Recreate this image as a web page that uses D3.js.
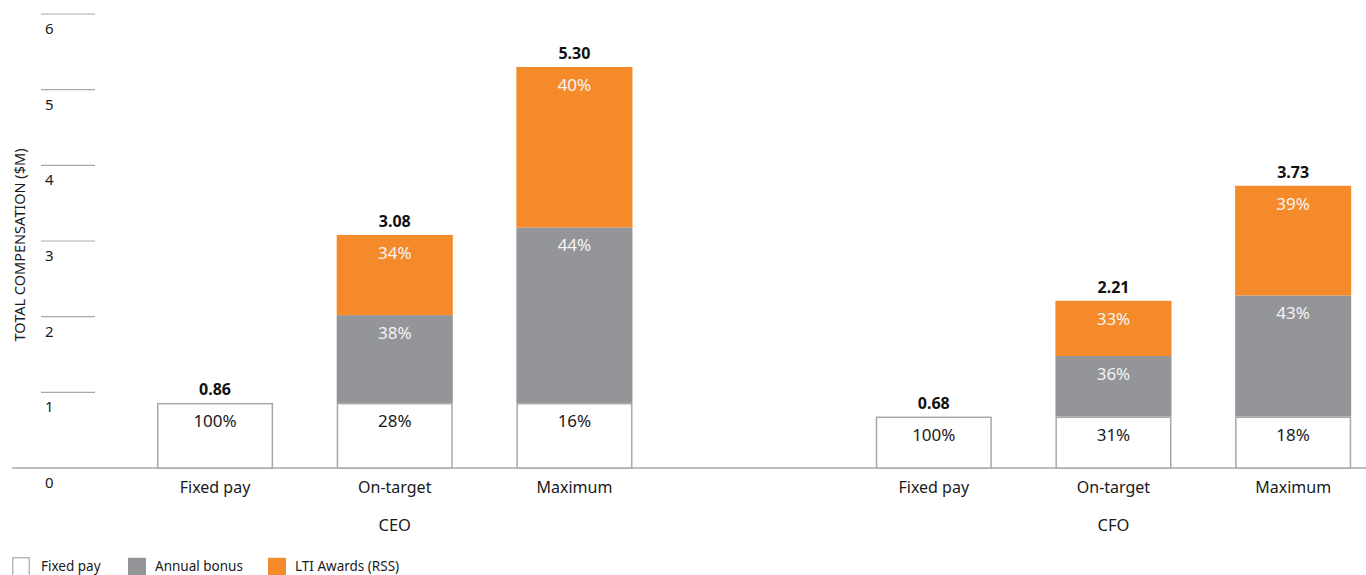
<!DOCTYPE html>
<html>
<head>
<meta charset="utf-8">
<script src="https://cdn.jsdelivr.net/npm/d3@7"></script>
<style>
  html, body { margin: 0; padding: 0; background: #fff; }
  svg { display: block; font-family: "Noto Sans", "Open Sans", sans-serif; }
</style>
</head>
<body>
<svg id="chart" width="1366" height="575"></svg>
<script>
// Executive pay scenarios ($M)
const groups = ["CEO", "CFO"];
const scenarios = ["Fixed pay", "On-target", "Maximum"];
const seriesNames = ["Fixed pay", "Annual bonus", "LTI Awards (RSS)"];
const seriesColors = ["#ffffff", "#939598", "#f58a2a"];

// values per bar, in scenario order, for each group
const ceoFixed = [0.86, 0.86, 0.86];
const ceoBonus = [0, 1.16, 2.32];
const ceoLti   = [0, 1.06, 2.12];
const cfoFixed = [0.68, 0.68, 0.68];
const cfoBonus = [0, 0.80, 1.60];
const cfoLti   = [0, 0.73, 1.45];

const yTicks = [0, 1, 2, 3, 4, 5, 6];

const bars = [];
[[groups[0], ceoFixed, ceoBonus, ceoLti], [groups[1], cfoFixed, cfoBonus, cfoLti]]
  .forEach(([g, f, b, l]) => {
    scenarios.forEach((s, i) => {
      bars.push({ key: g + "|" + s, group: g, scenario: s, values: [f[i], b[i], l[i]] });
    });
  });

const svg = d3.select("#chart");

// slots: three CEO bars, an empty slot, three CFO bars
const slotKeys = [
  bars[0].key, bars[1].key, bars[2].key, "__gap__",
  bars[3].key, bars[4].key, bars[5].key
];
const x = d3.scaleBand()
  .domain(slotKeys)
  .range([125.2, 1383])
  .paddingInner(0.354)
  .paddingOuter(0.177);

const y = d3.scaleLinear().domain([0, 6]).range([468, 14]);

// gridline ticks on the left
const tickG = svg.append("g");
tickG.selectAll("line.tick")
  .data(yTicks.filter(d => d > 0))
  .join("line")
  .attr("x1", 41).attr("x2", 95)
  .attr("y1", d => y(d)).attr("y2", d => y(d))
  .attr("stroke", "#a7a9ac").attr("stroke-width", 1.2);
tickG.selectAll("text")
  .data(yTicks)
  .join("text")
  .attr("x", 45)
  .attr("y", d => y(d) + 20)
  .attr("font-size", 15)
  .attr("fill", "#1a1a1a")
  .text(d => d);

// baseline
svg.append("line")
  .attr("x1", 12).attr("x2", 1366)
  .attr("y1", y(0)).attr("y2", y(0))
  .attr("stroke", "#a7a9ac").attr("stroke-width", 1.5);

// y axis title
svg.append("text")
  .attr("transform", `translate(25,${245}) rotate(-90)`)
  .attr("text-anchor", "middle")
  .attr("font-size", 14.5)
  .attr("fill", "#1a1a1a")
  .text("TOTAL COMPENSATION ($M)");

// stacked bars
const barG = svg.append("g");
bars.forEach(bar => {
  const total = d3.sum(bar.values);
  let acc = 0;
  bar.values.forEach((v, i) => {
    if (v <= 0) return;
    const y0 = acc, y1 = acc + v;
    acc = y1;
    const isFixed = i === 0;
    barG.append("rect")
      .attr("x", x(bar.key) + (isFixed ? 0.75 : 0))
      .attr("width", x.bandwidth() - (isFixed ? 1.5 : 0))
      .attr("y", y(y1) + (isFixed ? 0.75 : 0))
      .attr("height", y(y0) - y(y1) - (isFixed ? 0.75 : 0))
      .attr("fill", seriesColors[i])
      .attr("stroke", isFixed ? "#a7a9ac" : "none")
      .attr("stroke-width", isFixed ? 1.5 : 0);
    barG.append("text")
      .attr("x", x(bar.key) + x.bandwidth() / 2)
      .attr("y", y(y1) + 24)
      .attr("text-anchor", "middle")
      .attr("font-size", 17)
      .attr("fill", isFixed ? "#1a1a1a" : "#f4f4f4")
      .text(Math.round(v / total * 100) + "%");
  });
  barG.append("text")
    .attr("x", x(bar.key) + x.bandwidth() / 2)
    .attr("y", y(total) - 8)
    .attr("text-anchor", "middle")
    .attr("font-size", 16)
    .attr("font-weight", "bold")
    .attr("fill", "#111")
    .text(total.toFixed(2));
  // scenario label
  svg.append("text")
    .attr("x", x(bar.key) + x.bandwidth() / 2)
    .attr("y", y(0) + 25)
    .attr("text-anchor", "middle")
    .attr("font-size", 16)
    .attr("fill", "#1a1a1a")
    .text(bar.scenario);
});

// group labels under the middle bar of each group
groups.forEach(g => {
  const mid = g + "|" + scenarios[1];
  svg.append("text")
    .attr("x", x(mid) + x.bandwidth() / 2)
    .attr("y", y(0) + 63)
    .attr("text-anchor", "middle")
    .attr("font-size", 16.5)
    .attr("fill", "#1a1a1a")
    .text(g);
});

// legend
const legendX = [12, 128, 268];
const legendTextX = [41, 155, 295];
const legend = svg.append("g");
seriesNames.forEach((name, i) => {
  legend.append("rect")
    .attr("x", legendX[i] + (i === 0 ? 0.75 : 0))
    .attr("y", 557.75)
    .attr("width", 18 - (i === 0 ? 1.5 : 0))
    .attr("height", 18)
    .attr("fill", seriesColors[i])
    .attr("stroke", i === 0 ? "#a7a9ac" : "none")
    .attr("stroke-width", 1.2);
  legend.append("text")
    .attr("x", legendTextX[i])
    .attr("y", 571)
    .attr("font-size", 13.5)
    .attr("fill", "#1a1a1a")
    .text(name);
});
</script>
</body>
</html>
